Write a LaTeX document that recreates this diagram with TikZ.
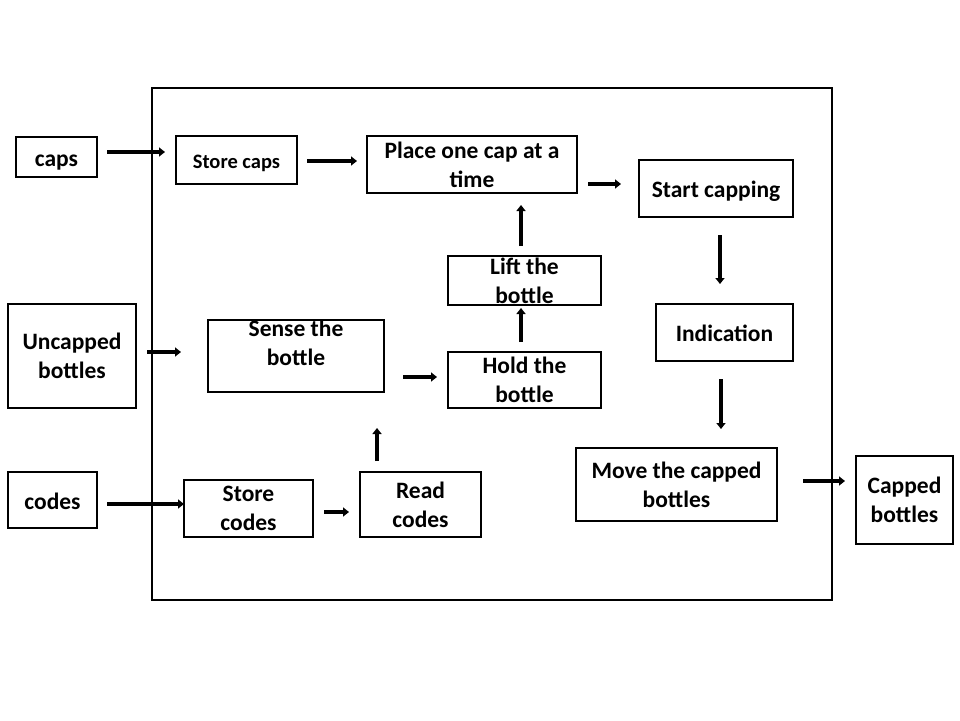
\documentclass[tikz,border=0pt]{standalone}
\usepackage{fontspec}
\setmainfont{Carlito}
\usetikzlibrary{arrows.meta,calc}
\begin{document}
\begin{tikzpicture}[x=1pt,y=-1pt,
  frame/.style={draw, line width=2pt, inner sep=0pt, font=\bfseries\fontsize{23.5}{29}\selectfont},
  box/.style={frame, align=center},
  oneline/.style={frame, text height=21pt, text depth=3pt},
  txt/.style={inner sep=0pt, align=center, font=\bfseries\fontsize{23.5}{29}\selectfont},
  arr/.style={line width=4pt, -{Triangle[length=6pt,width=9pt]}},
  outer/.style={draw, line width=2.5pt, inner sep=0pt}
  ]
\useasboundingbox[fill=white] (0,0) rectangle (960,720);
% system boundary
\node[outer, minimum width=680pt, minimum height=512pt] (sys) at (492,344) {};
% boxes
\node[oneline, minimum width=81pt, minimum height=40pt] (caps) at (56.5,157) {caps};
\node[oneline, minimum width=121pt, minimum height=48pt, font=\bfseries\fontsize{20.5}{25}\selectfont, text height=18pt, text depth=2pt] (storecaps) at (236.5,160) {Store caps};
\node[box, minimum width=210pt, minimum height=57pt] (place) at (472,164.5) {Place one cap at a\\time};
\node[oneline, minimum width=154pt, minimum height=57pt] (start) at (716,188.5) {Start capping};
\node[box, minimum width=153pt, minimum height=49pt] (lift) at (524.5,280.5) {};
\node[txt] (liftt) at (lift.center) {Lift the\\bottle};
\node[oneline, minimum width=137pt, minimum height=57pt] (indication) at (724.5,332.5) {Indication};
\node[box, minimum width=128pt, minimum height=104pt] (uncapped) at (72,356) {Uncapped\\bottles};
\node[box, minimum width=176pt, minimum height=72pt] (sense) at (296,356) {};
\node[txt] (senset) at ($(sense.center)+(0,-13.5)$) {Sense the\\bottle};
\node[box, minimum width=153pt, minimum height=56pt] (hold) at (524.5,380) {Hold the\\bottle};
\node[box, minimum width=201pt, minimum height=73pt] (move) at (676.5,484.5) {Move the capped\\bottles};
\node[box, minimum width=97pt, minimum height=88pt] (capped) at (904.5,500) {Capped\\bottles};
\node[oneline, minimum width=89pt, minimum height=56pt] (codes) at (52.5,500) {codes};
\node[box, minimum width=129pt, minimum height=57pt] (storecodes) at (248.5,508.5) {Store\\codes};
\node[box, minimum width=121pt, minimum height=65pt] (readcodes) at (420.5,504.5) {Read\\codes};
% arrows
\draw[arr] ($(caps.east)+(9,-5)$) -- ($(storecaps.west)+(-10,-8)$);
\draw[arr] ($(storecaps.east)+(9,1)$) -- ($(place.west)+(-9,-3.5)$);
\draw[arr] ($(place.east)+(10,19.5)$) -- ($(start.west)+(-17,-4.5)$);
\draw[arr] ($(start.south)+(4,17)$) -- ($(indication.north)+(-4.5,-19)$);
\draw[arr] ($(indication.south)+(-3.5,17)$) -- ($(move.north)+(44.5,-18)$);
\draw[arr] ($(move.east)+(25,-3.5)$) -- ($(capped.west)+(-10,-19)$);
\draw[arr] ($(uncapped.east)+(10,-4)$) -- ($(sense.west)+(-26,-4)$);
\draw[arr] ($(sense.east)+(18,21)$) -- ($(hold.west)+(-10,-3)$);
\draw[arr] ($(hold.north)+(-3.5,-9)$) -- ($(lift.south)+(-3.5,2)$);
\draw[arr] ($(lift.north)+(-3.5,-9)$) -- ($(place.south)+(49,11)$);
\draw[arr] ($(codes.east)+(9,4)$) -- ($(storecodes.west)+(1,-4.5)$);
\draw[arr] ($(storecodes.east)+(10,3.5)$) -- ($(readcodes.west)+(-10,7.5)$);
\draw[arr] ($(readcodes.north)+(-43.5,-10)$) -- ($(sense.south)+(81,35)$);
\end{tikzpicture}
\end{document}
